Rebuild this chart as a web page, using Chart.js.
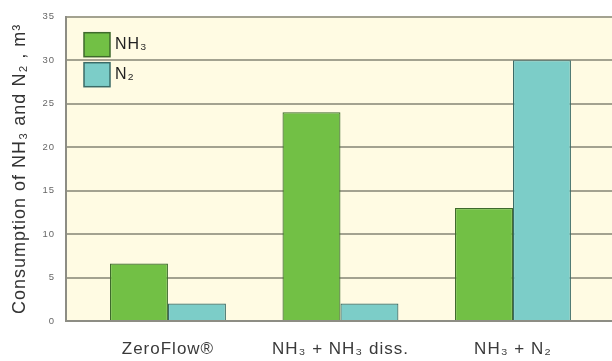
<!DOCTYPE html>
<html>
<head>
<meta charset="utf-8">
<script src="https://cdn.jsdelivr.net/npm/chart.js@4/dist/chart.umd.min.js"></script>
<style>
  html, body { margin: 0; padding: 0; background: #ffffff; }
  #wrap { width: 612px; height: 361px; }
</style>
</head>
<body>
<div id="wrap"><canvas id="c" width="612" height="361"></canvas></div>
<script>
// Gas consumption per process, m³
const categories = ['ZeroFlow®', 'NH₃ + NH₃ diss.', 'NH₃ + N₂'];
const seriesNames = ['NH₃', 'N₂'];
const nh3Values = [6.6, 24, 13];
const n2Values = [2, 2, 30];
const yTicks = [0, 5, 10, 15, 20, 25, 30, 35];

const green = '#72c045', greenEdge = '#3f6a2c';
const teal = '#7ccdc8', tealEdge = '#3b6b67';
const sans = '"Liberation Sans", "DejaVu Sans", sans-serif';

// slightly open tracking for all canvas text
const tracking = {
  id: 'tracking',
  beforeUpdate(chart) { chart.ctx.letterSpacing = '1px'; },
  beforeDraw(chart) { chart.ctx.letterSpacing = '1px'; }
};

// cream plot background
const plotBg = {
  id: 'plotBg',
  beforeDraw(chart) {
    const { ctx, chartArea: a } = chart;
    ctx.save();
    ctx.fillStyle = '#fffbe3';
    ctx.fillRect(a.left, a.top, a.right - a.left, a.bottom - a.top);
    ctx.restore();
  }
};

// stacked legend in the upper-left corner of the plot
const boxLegend = {
  id: 'boxLegend',
  afterDraw(chart) {
    const { ctx, chartArea: a } = chart;
    ctx.save();
    chart.data.datasets.forEach((ds, i) => {
      const x = a.left + 18, y = a.top + 16 + i * 30;
      ctx.fillStyle = ds.backgroundColor;
      ctx.fillRect(x, y, 26, 24);
      ctx.strokeStyle = ds.borderColor;
      ctx.lineWidth = 1.5;
      ctx.strokeRect(x, y, 26, 24);
      ctx.fillStyle = '#222';
      ctx.font = '16px ' + sans;
      ctx.textBaseline = 'middle';
      ctx.fillText(ds.label, x + 31, y + 12);
    });
    ctx.restore();
  }
};

new Chart(document.getElementById('c'), {
  type: 'bar',
  data: {
    datasets: [
      { label: seriesNames[0], data: nh3Values.map((v, i) => ({ x: i, y: v })),
        backgroundColor: green, borderColor: greenEdge, borderWidth: 1.2 },
      { label: seriesNames[1], data: n2Values.map((v, i) => ({ x: i, y: v })),
        backgroundColor: teal, borderColor: tealEdge, borderWidth: 1.2 }
    ]
  },
  options: {
    responsive: false,
    animation: false,
    events: [],
    categoryPercentage: 0.672,
    barPercentage: 1,
    layout: { padding: { top: 15, right: 0, left: 0, bottom: 0 } },
    plugins: {
      legend: { display: false },
      tooltip: { enabled: false }
    },
    scales: {
      x: {
        type: 'linear',
        offset: false,
        min: -0.591,
        max: 2.574,
        afterBuildTicks(scale) { scale.ticks = categories.map((_, i) => ({ value: i })); },
        afterFit(scale) { scale.height = 40; },
        grid: { display: false, drawTicks: false },
        border: { display: true, color: '#8d8d84', width: 2 },
        ticks: {
          padding: 18,
          color: '#3a3a3a',
          font: { family: sans, size: 17 },
          callback: v => categories[v] ?? ''
        }
      },
      y: {
        min: 0,
        max: 35,
        afterBuildTicks(scale) { scale.ticks = yTicks.map(v => ({ value: v })); },
        afterFit(scale) { scale.width = 66; },
        grid: { color: '#a3a290', lineWidth: 2, drawTicks: false },
        border: { display: true, color: '#8d8d84', width: 2 },
        ticks: {
          padding: 11,
          color: '#666',
          font: { family: '"Liberation Sans Narrow", "Liberation Sans", sans-serif', size: 9.5 }
        },
        title: {
          display: true,
          text: 'Consumption of NH₃ and N₂ , m³',
          color: '#333',
          padding: { top: 9, bottom: 0 },
          font: { family: sans, size: 18 }
        }
      }
    }
  },
  plugins: [tracking, plotBg, boxLegend]
});
</script>
</body>
</html>
